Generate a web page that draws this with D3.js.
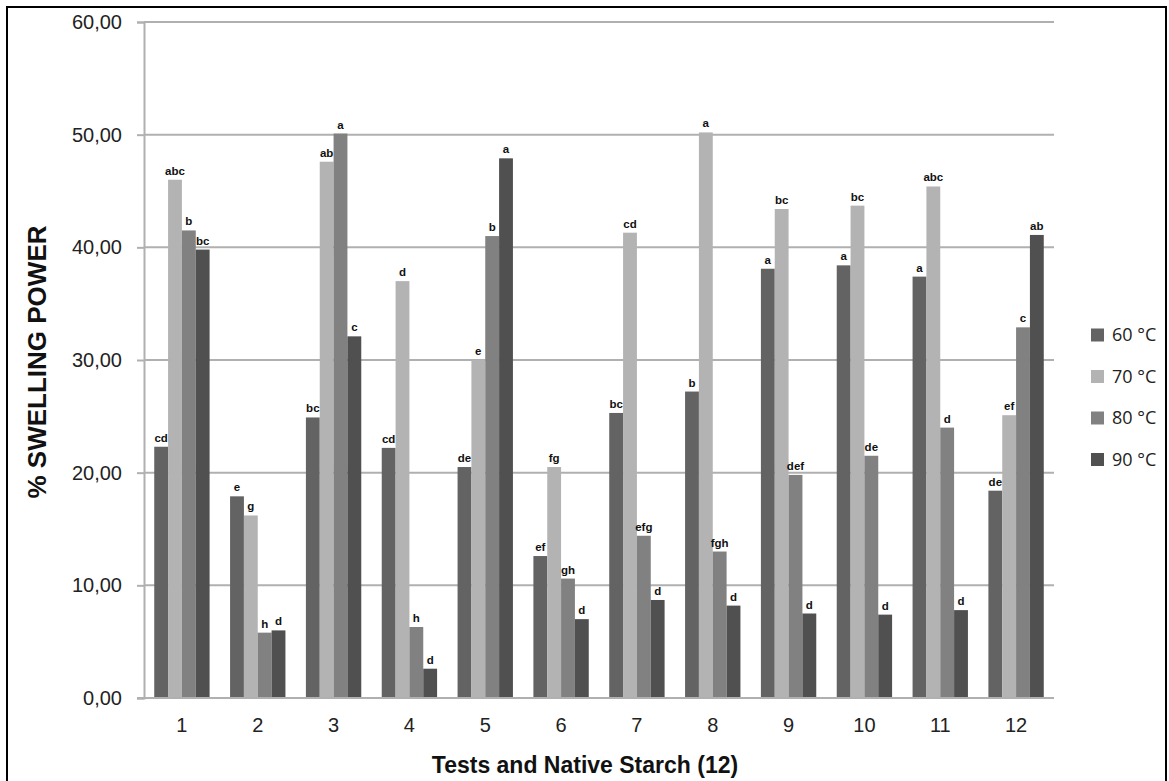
<!DOCTYPE html>
<html>
<head>
<meta charset="utf-8">
<script src="https://cdn.jsdelivr.net/npm/d3@7"></script>
<style>
  body { margin: 0; background: #fff; }
  text { font-family: "Liberation Sans", Arial, sans-serif; }
</style>
</head>
<body>
<svg width="1169" height="781"></svg>
<script>
// tests 1..11 and native starch (12)
var tests = ["1","2","3","4","5","6","7","8","9","10","11","12"];
var temps = ["60 °C","70 °C","80 °C","90 °C"];
var colors = ["#636363","#b3b3b3","#818181","#505050"];

var t60 = [22.3, 17.9, 24.9, 22.2, 20.5, 12.6, 25.3, 27.2, 38.1, 38.4, 37.4, 18.4];
var t70 = [46.0, 16.2, 47.6, 37.0, 30.0, 20.5, 41.3, 50.2, 43.4, 43.7, 45.4, 25.1];
var t80 = [41.5, 5.8, 50.1, 6.3, 41.0, 10.6, 14.4, 13.0, 19.8, 21.5, 24.0, 32.9];
var t90 = [39.8, 6.0, 32.1, 2.6, 47.9, 7.0, 8.7, 8.2, 7.5, 7.4, 7.8, 41.1];

var l60 = ["cd","e","bc","cd","de","ef","bc","b","a","a","a","de"];
var l70 = ["abc","g","ab","d","e","fg","cd","a","bc","bc","abc","ef"];
var l80 = ["b","h","a","h","b","gh","efg","fgh","def","de","d","c"];
var l90 = ["bc","d","c","d","a","d","d","d","d","d","d","ab"];

var yTicks = [0, 10, 20, 30, 40, 50, 60];

var series = [t60, t70, t80, t90];
var letters = [l60, l70, l80, l90];

var svg = d3.select("svg");

// outer frame
svg.append("rect")
  .attr("x", 7).attr("y", 7).attr("width", 1159).attr("height", 800)
  .attr("fill", "none").attr("stroke", "#000").attr("stroke-width", 2);

var x = d3.scaleBand().domain(tests).range([144, 1054])
  .paddingInner(0.27).paddingOuter(0.135);
var x1 = d3.scaleBand().domain(d3.range(4)).range([0, x.bandwidth()]);
var y = d3.scaleLinear().domain([0, 60]).range([698, 22]);

var fmt = function(d) { return d3.format(".2f")(d).replace(".", ","); };

// gridlines
svg.append("g").selectAll("line").data(yTicks.slice(1)).enter()
  .append("line")
  .attr("x1", 144).attr("x2", 1054)
  .attr("y1", d => y(d)).attr("y2", d => y(d))
  .attr("stroke", "#b0b0b0").attr("stroke-width", 2);

// y axis
var yAxis = d3.axisLeft(y).tickValues(yTicks).tickFormat(fmt).tickSize(7).tickPadding(15);
var gy = svg.append("g").attr("transform", "translate(144,0)").call(yAxis);
gy.select(".domain").attr("stroke", "#b0b0b0").attr("stroke-width", 2);
gy.selectAll(".tick line").attr("stroke", "#b0b0b0").attr("stroke-width", 2);
gy.selectAll("text").attr("font-size", 20).attr("fill", "#222")
  .style("font-family", "'Liberation Sans', Arial, sans-serif");

// bars
var groups = svg.append("g").selectAll("g").data(tests).enter()
  .append("g").attr("transform", d => "translate(" + x(d) + ",0)");

groups.selectAll("rect")
  .data((d, i) => series.map((s, k) => ({ k: k, v: s[i], lab: letters[k][i] })))
  .enter().append("rect")
  .attr("x", d => x1(d.k))
  .attr("y", d => y(d.v))
  .attr("width", x1.bandwidth())
  .attr("height", d => y(0) - y(d.v))
  .attr("fill", d => colors[d.k]);

groups.selectAll("text")
  .data((d, i) => series.map((s, k) => ({ k: k, v: s[i], lab: letters[k][i] })))
  .enter().append("text")
  .attr("x", d => x1(d.k) + x1.bandwidth() / 2)
  .attr("y", d => y(d.v) - 5)
  .attr("text-anchor", "middle")
  .attr("font-size", 11.5).attr("font-weight", "bold").attr("fill", "#111")
  .text(d => d.lab);

// x axis
var xAxis = d3.axisBottom(x).tickSize(0).tickPadding(20);
var gx = svg.append("g").attr("transform", "translate(0,698)").call(xAxis);
gx.select(".domain").attr("stroke", "#b0b0b0").attr("stroke-width", 2).attr("d", "M137,0H1054");
gx.selectAll("text").attr("font-size", 20).attr("fill", "#222")
  .style("font-family", "'Liberation Sans', Arial, sans-serif");

// axis titles
svg.append("text")
  .attr("x", 585).attr("y", 773).attr("text-anchor", "middle")
  .attr("font-size", 23).attr("font-weight", "bold").attr("fill", "#111")
  .text("Tests and Native Starch (12)");

svg.append("text")
  .attr("transform", "translate(46,362) rotate(-90)")
  .attr("text-anchor", "middle")
  .attr("font-size", 26).attr("font-weight", "bold").attr("fill", "#111")
  .text("% SWELLING POWER");

// legend
var legend = svg.append("g").selectAll("g").data(temps).enter()
  .append("g").attr("transform", (d, i) => "translate(1091," + (335 + i * 41.5) + ")");
legend.append("rect")
  .attr("x", 0).attr("y", -6.5).attr("width", 13).attr("height", 13)
  .attr("fill", (d, i) => colors[i]);
legend.append("text")
  .attr("x", 21).attr("y", 0).attr("dy", "0.35em")
  .attr("font-size", 18).attr("fill", "#222")
  .style("font-family", "'Open Sans', 'DejaVu Sans', sans-serif")
  .text(d => d);
</script>
</body>
</html>
